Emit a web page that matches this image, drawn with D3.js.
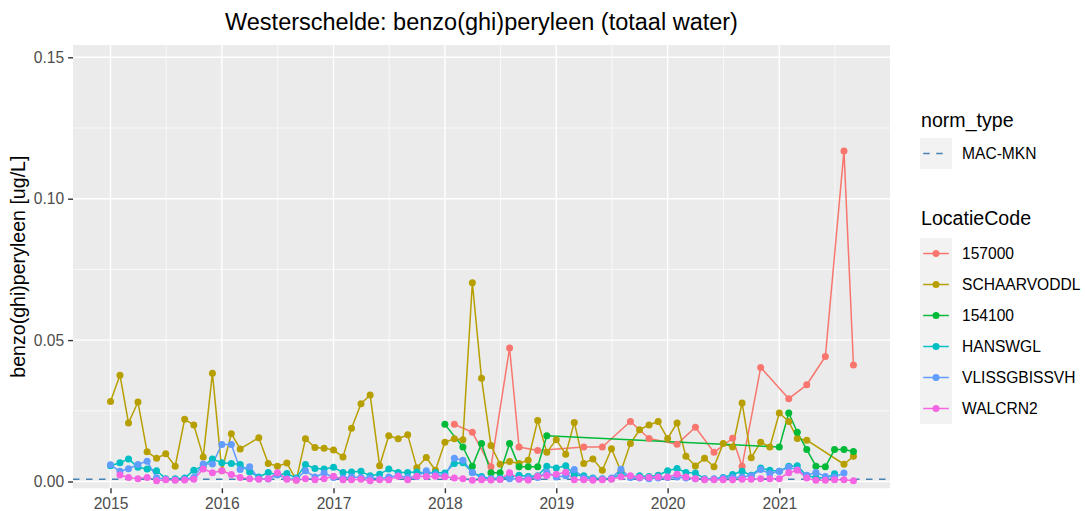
<!DOCTYPE html>
<html>
<head>
<meta charset="utf-8">
<script src="https://cdn.jsdelivr.net/npm/d3@7"></script>
<style>
  body { margin: 0; background: #fff; }
  svg { display: block; font-family: "Liberation Sans", Arial, sans-serif; }
  .tick-label { fill: #4d4d4d; font-size: 15.6px; }
  .axis-title { fill: #000; font-size: 19.6px; }
  .chart-title { fill: #000; font-size: 23.5px; }
  .legend-title { fill: #000; font-size: 19.6px; }
  .legend-text { fill: #000; font-size: 15.6px; }
</style>
</head>
<body>
<div id="container"></div>
<script>
const w = 1085;
const h = 511;
const panel = { left: 73, right: 890, top: 45, bottom: 488.3 };
const pointRadius = 3.5;
const lineWidth = 1.5;

// one row per year, one value per month (null = no sample)
const s157000 = [
  null, null, null, null, null, null, null, null, null, null, null, null,
  null, null, null, null, null, null, null, null, null, null, null, null,
  null, null, null, null, null, null, null, null, null, null, null, null,
  null, 0.0202, null, 0.0174, null, 0.0052, null, 0.0472, 0.0122, null, 0.0110, null,
  null, null, null, 0.0122, null, 0.0122, null, null, 0.0212, null, 0.0152, null,
  null, 0.0132, null, 0.0192, null, 0.0103, null, 0.0153, 0.0054, null, 0.0403, null,
  null, 0.0293, null, 0.0342, null, 0.0442, null, 0.1169, 0.0412
];

const sSchaarvoddl = [
  0.0283, 0.0376, 0.0207, 0.0281, 0.0105, 0.0082, 0.0098, 0.0054, 0.0220, 0.0200, 0.0087, 0.0383,
  0.0038, 0.0169, 0.0115, null, 0.0155, 0.0064, 0.0054, 0.0065, 0.0005, 0.0151, 0.0120, 0.0118,
  0.0111, 0.0087, 0.0188, 0.0275, 0.0306, 0.0056, 0.0162, 0.0151, 0.0165, 0.0049, 0.0085, 0.0040,
  0.0139, 0.0151, 0.0148, 0.0703, 0.0365, 0.0127, 0.0061, 0.0071, 0.0064, 0.0075, 0.0216, 0.0103,
  0.0148, 0.0096, 0.0209, 0.0064, 0.0080, 0.0040, 0.0116, 0.0036, 0.0134, 0.0183, 0.0200, 0.0212,
  0.0152, 0.0207, 0.0089, 0.0055, 0.0082, 0.0052, 0.0134, 0.0122, 0.0278, 0.0084, 0.0139, 0.0122,
  0.0242, 0.0212, 0.0152, 0.0146, null, null, null, 0.0061, 0.0089
];

const s154100 = [
  null, null, null, null, null, null, null, null, null, null, null, null,
  null, null, null, null, null, null, null, null, null, null, null, null,
  null, null, null, null, null, null, null, null, null, null, null, null,
  0.0202, null, 0.0122, 0.0054, 0.0134, 0.0031, 0.0031, 0.0134, 0.0052, 0.0052, 0.0052, 0.0162,
  null, null, null, null, null, null, null, null, null, null, null, null,
  null, null, null, null, null, null, null, null, null, null, null, null,
  0.0122, 0.0242, 0.0174, 0.0113, 0.0054, 0.0052, 0.0113, 0.0113, 0.0106
];

const sHanswgl = [
  0.0056, 0.0066, 0.0080, 0.0050, 0.0044, 0.0038, 0.0010, 0.0010, 0.0012, 0.0040, 0.0055, 0.0080,
  0.0066, 0.0064, 0.0060, 0.0034, 0.0016, 0.0032, 0.0024, 0.0028, 0.0012, 0.0060, 0.0046, 0.0044,
  0.0050, 0.0032, 0.0034, 0.0036, 0.0020, 0.0026, 0.0044, 0.0032, 0.0032, 0.0034, 0.0030, 0.0032,
  0.0030, 0.0064, 0.0066, 0.0032, 0.0018, 0.0010, 0.0012, 0.0014, 0.0022, 0.0018, 0.0020, 0.0054,
  0.0048, 0.0056, 0.0024, 0.0020, 0.0012, 0.0010, 0.0010, 0.0028, 0.0016, 0.0020, 0.0018, 0.0022,
  0.0038, 0.0046, 0.0032, 0.0030, 0.0010, 0.0008, 0.0014, 0.0025, 0.0036, 0.0022, 0.0048, 0.0040,
  0.0036, 0.0054, 0.0056, 0.0020, 0.0014, 0.0012, 0.0027, null, null
];

const sVlissgbissvh = [
  0.0059, 0.0036, 0.0045, 0.0060, 0.0072, 0.0013, 0.0008, 0.0006, 0.0008, 0.0014, 0.0062, 0.0062,
  0.0131, 0.0131, 0.0042, 0.0052, 0.0010, 0.0009, 0.0024, 0.0010, 0.0008, 0.0038, 0.0016, 0.0030,
  0.0014, 0.0012, 0.0016, 0.0014, 0.0012, 0.0010, 0.0016, 0.0020, 0.0014, 0.0018, 0.0038, 0.0024,
  0.0020, 0.0082, 0.0075, 0.0032, 0.0012, 0.0010, 0.0008, 0.0010, 0.0009, 0.0012, 0.0014, 0.0033,
  0.0016, 0.0020, 0.0042, 0.0012, 0.0010, 0.0009, 0.0012, 0.0043, 0.0014, 0.0012, 0.0010, 0.0012,
  0.0014, 0.0016, 0.0012, 0.0010, 0.0008, 0.0010, 0.0012, 0.0014, 0.0016, 0.0020, 0.0042, 0.0028,
  0.0036, 0.0050, 0.0042, 0.0022, 0.0032, 0.0018, 0.0016, 0.0030, null
];

const sWalcrn2 = [
  null, 0.0023, 0.0014, 0.0010, 0.0014, 0.0003, 0.0006, 0.0004, 0.0005, 0.0008, 0.0044, 0.0031,
  0.0038, 0.0025, 0.0014, 0.0010, 0.0008, 0.0010, 0.0031, 0.0008, 0.0004, 0.0010, 0.0006, 0.0010,
  0.0019, 0.0006, 0.0006, 0.0008, 0.0003, 0.0006, 0.0006, 0.0019, 0.0006, 0.0019, 0.0018, 0.0019,
  0.0017, 0.0012, 0.0010, 0.0004, 0.0006, 0.0005, 0.0007, 0.0031, 0.0008, 0.0005, 0.0019, 0.0021,
  0.0026, 0.0033, 0.0006, 0.0006, 0.0004, 0.0006, 0.0008, 0.0017, 0.0020, 0.0014, 0.0014, 0.0016,
  0.0016, 0.0026, 0.0016, 0.0010, 0.0006, 0.0006, 0.0006, 0.0006, 0.0008, 0.0008, 0.0010, 0.0010,
  0.0010, 0.0031, 0.0040, 0.0012, 0.0004, 0.0004, 0.0006, 0.0006, 0.0003
];

const locatieCodes = ['157000', 'SCHAARVODDL', '154100', 'HANSWGL', 'VLISSGBISSVH', 'WALCRN2'];
const seriesValues = [s157000, sSchaarvoddl, s154100, sHanswgl, sVlissgbissvh, sWalcrn2];
const normTypes = ['MAC-MKN'];
const normValues = [0.00082];
const yearTicks = [2015, 2016, 2017, 2018, 2019, 2020, 2021];
const yTicks = [0, 0.05, 0.10, 0.15];
const firstMonth = new Date(2015, 0, 1);

const palette = ['#F8766D', '#B79F00', '#00BA38', '#00BFC4', '#619CFF', '#F564E3'];
const normColor = '#4682B4';

const svg = d3.select('#container')
              .append('svg')
              .attr('width', w)
              .attr('height', h);

// Scales (calibrated on the 2015 / 2021 ticks and 0 / 0.15 ticks)
const xBase = d3.scaleTime()
                .domain([new Date(2015, 0, 1), new Date(2021, 0, 1)])
                .range([110.5, 779.3]);
const xScale = d3.scaleTime()
                 .domain([xBase.invert(panel.left), xBase.invert(panel.right)])
                 .range([panel.left, panel.right]);

const yBase = d3.scaleLinear().domain([0, 0.15]).range([481.5, 57.3]);
const yScale = d3.scaleLinear()
                 .domain([yBase.invert(panel.bottom), yBase.invert(panel.top)])
                 .range([panel.bottom, panel.top]);

const color = d3.scaleOrdinal().domain(locatieCodes).range(palette);

const series = locatieCodes.map((code, i) => ({
  code,
  points: seriesValues[i]
    .map((v, m) => ({ date: d3.timeMonth.offset(firstMonth, m), value: v }))
    .filter(d => d.value !== null)
}));

createPanel(svg);
createAxis(svg);
createTitle(svg);

const line = d3.line()
               .x(d => xScale(d.date))
               .y(d => yScale(d.value));

const plot = svg.append('g');

plot.selectAll('path.series')
    .data(series)
    .enter()
    .append('path')
    .attr('class', 'series')
    .attr('d', d => line(d.points))
    .attr('fill', 'none')
    .attr('stroke', d => color(d.code))
    .attr('stroke-width', lineWidth)
    .attr('stroke-linejoin', 'round');

plot.selectAll('line.norm')
    .data(normValues)
    .enter()
    .append('line')
    .attr('class', 'norm')
    .attr('x1', panel.left)
    .attr('x2', panel.right)
    .attr('y1', d => yScale(d))
    .attr('y2', d => yScale(d))
    .attr('stroke', normColor)
    .attr('stroke-width', lineWidth)
    .attr('stroke-dasharray', '6.5,6.5');

series.forEach(s => {
  plot.append('g')
      .selectAll('circle')
      .data(s.points)
      .enter()
      .append('circle')
      .attr('cx', d => xScale(d.date))
      .attr('cy', d => yScale(d.value))
      .attr('r', pointRadius)
      .attr('fill', color(s.code));
});

createLegend(svg);

function createPanel(svg) {
  svg.append('rect')
     .attr('x', panel.left)
     .attr('y', panel.top)
     .attr('width', panel.right - panel.left)
     .attr('height', panel.bottom - panel.top)
     .attr('fill', '#EBEBEB');

  const xMajor = yearTicks.map(y => new Date(y, 0, 1));
  const xMinor = yearTicks.map(y => new Date((new Date(y, 0, 1).getTime() + new Date(y + 1, 0, 1).getTime()) / 2));
  const yMinor = yTicks.slice(0, -1).map((t, i) => (t + yTicks[i + 1]) / 2);

  const grid = svg.append('g').attr('stroke', '#fff');

  grid.selectAll('.y-minor').data(yMinor).enter().append('line')
      .attr('x1', panel.left).attr('x2', panel.right)
      .attr('y1', d => yScale(d)).attr('y2', d => yScale(d))
      .attr('stroke-width', 0.7);

  grid.selectAll('.x-minor').data(xMinor.filter(d => xScale(d) < panel.right)).enter().append('line')
      .attr('y1', panel.top).attr('y2', panel.bottom)
      .attr('x1', d => xScale(d)).attr('x2', d => xScale(d))
      .attr('stroke-width', 0.7);

  grid.selectAll('.y-major').data(yTicks).enter().append('line')
      .attr('x1', panel.left).attr('x2', panel.right)
      .attr('y1', d => yScale(d)).attr('y2', d => yScale(d))
      .attr('stroke-width', 1.4);

  grid.selectAll('.x-major').data(xMajor).enter().append('line')
      .attr('y1', panel.top).attr('y2', panel.bottom)
      .attr('x1', d => xScale(d)).attr('x2', d => xScale(d))
      .attr('stroke-width', 1.4);
}

function createAxis(svg) {
  const xAxis = d3.axisBottom(xScale)
                  .tickValues(yearTicks.map(y => new Date(y, 0, 1)))
                  .tickFormat(d3.timeFormat('%Y'))
                  .tickSize(4.9)
                  .tickPadding(5);
  const yAxis = d3.axisLeft(yScale)
                  .tickValues(yTicks)
                  .tickFormat(d3.format('.2f'))
                  .tickSize(4.9)
                  .tickPadding(4);

  const gx = svg.append('g')
                .attr('id', 'x-axis')
                .attr('transform', `translate(0, ${panel.bottom})`)
                .call(xAxis);
  const gy = svg.append('g')
                .attr('id', 'y-axis')
                .attr('transform', `translate(${panel.left}, 0)`)
                .call(yAxis);

  [gx, gy].forEach(g => {
    g.select('.domain').remove();
    g.attr('font-family', null).attr('font-size', null);
    g.selectAll('.tick line').attr('stroke', '#333').attr('stroke-width', 1.4);
    g.selectAll('.tick text').attr('class', 'tick-label').attr('fill', null);
  });

  svg.append('text')
     .attr('class', 'axis-title')
     .attr('transform', `translate(25, ${(panel.top + panel.bottom) / 2}) rotate(-90)`)
     .attr('text-anchor', 'middle')
     .text('benzo(ghi)peryleen [ug/L]');
}

function createTitle(svg) {
  svg.append('text')
     .attr('class', 'chart-title')
     .attr('x', (panel.left + panel.right) / 2)
     .attr('y', 30)
     .attr('text-anchor', 'middle')
     .text('Westerschelde: benzo(ghi)peryleen (totaal water)');
}

function createLegend(svg) {
  const legendX = 920;
  const keySize = 31;
  const legend = svg.append('g').attr('id', 'legend');

  // norm_type
  legend.append('text')
        .attr('class', 'legend-title')
        .attr('x', legendX + 1)
        .attr('y', 127)
        .text('norm_type');

  const norm = legend.selectAll('.norm-key')
                     .data(normTypes)
                     .enter()
                     .append('g')
                     .attr('transform', (d, i) => `translate(${legendX}, ${138 + i * keySize})`);

  norm.append('rect')
      .attr('width', 32)
      .attr('height', keySize)
      .attr('fill', '#F2F2F2');
  norm.append('line')
      .attr('x1', 3.2).attr('x2', 28)
      .attr('y1', keySize / 2).attr('y2', keySize / 2)
      .attr('stroke', normColor)
      .attr('stroke-width', lineWidth)
      .attr('stroke-dasharray', '6.5,6.5');
  norm.append('text')
      .attr('class', 'legend-text')
      .attr('x', 42)
      .attr('y', keySize / 2 + 5.6)
      .text(d => d);

  // LocatieCode
  legend.append('text')
        .attr('class', 'legend-title')
        .attr('x', legendX + 1)
        .attr('y', 225)
        .text('LocatieCode');

  const items = legend.selectAll('.legend-label')
                      .data(locatieCodes)
                      .enter()
                      .append('g')
                      .attr('class', 'legend-label')
                      .attr('transform', (d, i) => `translate(${legendX}, ${238 + i * keySize})`);

  items.append('rect')
       .attr('width', 32)
       .attr('height', keySize)
       .attr('fill', '#F2F2F2');
  items.append('line')
       .attr('x1', 3.2).attr('x2', 28.8)
       .attr('y1', keySize / 2).attr('y2', keySize / 2)
       .attr('stroke', d => color(d))
       .attr('stroke-width', lineWidth);
  items.append('circle')
       .attr('cx', 16)
       .attr('cy', keySize / 2)
       .attr('r', pointRadius)
       .attr('fill', d => color(d));
  items.append('text')
       .attr('class', 'legend-text')
       .attr('x', 42)
       .attr('y', keySize / 2 + 5.6)
       .text(d => d);
}
</script>
</body>
</html>
